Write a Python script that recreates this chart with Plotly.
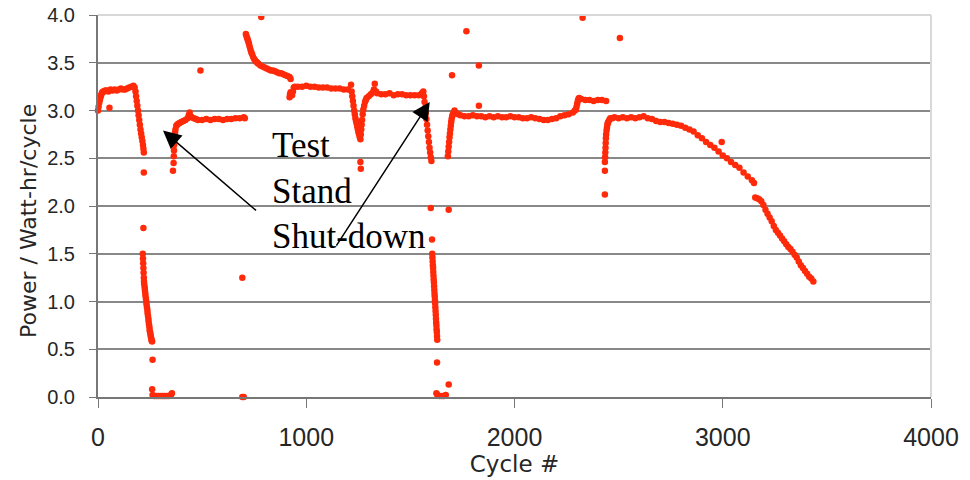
import plotly.graph_objects as go

# ---- data ----
seg_a_x = [0, 3, 6, 9, 12, 15, 18, 21, 25, 30, 35, 40, 50, 60, 70, 80, 90, 100, 110, 120, 130, 140, 150, 160, 170, 176,
           180, 183, 186, 189, 192, 195, 198, 201, 204, 207, 210, 213, 216, 218, 220]
seg_a_y = [3.00, 3.04, 3.08, 3.11, 3.14, 3.16, 3.18, 3.19, 3.20, 3.20, 3.21, 3.21, 3.20, 3.22, 3.21, 3.22, 3.21, 3.22, 3.23, 3.22, 3.22, 3.23, 3.24, 3.25, 3.26, 3.24,
           3.20, 3.15, 3.10, 3.05, 3.00, 2.95, 2.90, 2.85, 2.80, 2.76, 2.72, 2.68, 2.64, 2.60, 2.56]

drop1_x = [215, 216, 217, 218, 219, 220, 221, 222, 224, 225, 227, 228, 230, 232, 233, 235, 237, 238, 240, 242, 243, 245, 247,
           248, 250, 252, 253, 255, 257, 258, 260,
           262, 260, 262, 270, 280, 290, 300, 310, 320, 330, 340, 350, 355]
drop1_y = [1.50, 1.45, 1.40, 1.35, 1.30, 1.25, 1.21, 1.18, 1.15, 1.12, 1.09, 1.06, 1.03, 1.00, 0.97, 0.94, 0.91, 0.88, 0.85, 0.82, 0.79, 0.76, 0.73,
           0.70, 0.68, 0.66, 0.64, 0.62, 0.60, 0.59, 0.58,
           0.39, 0.08, 0.02, 0.01, 0.01, 0.01, 0.01, 0.01, 0.01, 0.01, 0.01, 0.02, 0.04]

seg_b_x = [363, 364, 365, 366, 367, 368, 370, 372, 376, 380, 385, 392, 400, 410, 420, 430, 436, 440, 445, 450, 460, 470, 480,
           500, 520, 540, 560, 580, 600, 620, 640, 660, 680, 700, 705]
seg_b_y = [2.45, 2.52, 2.58, 2.64, 2.69, 2.73, 2.77, 2.80, 2.84, 2.85, 2.86, 2.87, 2.88, 2.89, 2.90, 2.92, 2.95, 2.98, 2.94, 2.93, 2.92, 2.91, 2.90,
           2.90, 2.91, 2.90, 2.91, 2.91, 2.90, 2.91, 2.91, 2.92, 2.92, 2.93, 2.92]

seg_c_x = [710, 713, 716, 719, 722, 725, 728, 732, 736, 740, 745, 750, 755, 760, 765, 770, 780, 790, 800, 810, 820, 830, 840,
           850, 860, 870, 880, 890, 900, 910, 920, 925,
           920, 922, 925, 928, 932, 936, 940, 945, 960, 980, 1000, 1020, 1040, 1060, 1080, 1100, 1120, 1140, 1160, 1180, 1200, 1215,
           1218, 1221, 1224, 1227, 1230, 1233, 1236, 1239, 1242, 1245, 1248, 1251, 1254, 1257, 1260,
           1262, 1264, 1266, 1268, 1271, 1274, 1278, 1282, 1286, 1290, 1300, 1310, 1320, 1325, 1329, 1335,
           1340, 1360, 1380, 1400, 1420, 1440, 1460, 1480, 1500, 1520, 1540, 1555, 1562,
           1565, 1568, 1571, 1574, 1577, 1580, 1583, 1586, 1589, 1592, 1595, 1598, 1601]
seg_c_y = [3.80, 3.78, 3.76, 3.74, 3.72, 3.70, 3.67, 3.64, 3.61, 3.59, 3.56, 3.54, 3.52, 3.51, 3.50, 3.49, 3.47, 3.46, 3.45, 3.44, 3.43, 3.42, 3.42,
           3.41, 3.40, 3.39, 3.39, 3.38, 3.37, 3.36, 3.35, 3.33,
           3.14, 3.17, 3.19, 3.18, 3.16, 3.20, 3.24, 3.25, 3.25, 3.25, 3.26, 3.25, 3.25, 3.24, 3.24, 3.24, 3.23, 3.23, 3.23, 3.22, 3.22, 3.27,
           3.20, 3.15, 3.10, 3.05, 3.00, 2.96, 2.92, 2.89, 2.86, 2.83, 2.80, 2.77, 2.75, 2.72, 2.70,
           2.75, 2.80, 2.85, 2.90, 2.96, 3.01, 3.05, 3.09, 3.11, 3.13, 3.15, 3.17, 3.19, 3.22, 3.28, 3.20,
           3.18, 3.17, 3.17, 3.18, 3.16, 3.17, 3.17, 3.16, 3.16, 3.16, 3.16, 3.18, 3.20,
           3.15, 3.09, 3.03, 2.97, 2.91, 2.85, 2.79, 2.73, 2.67, 2.61, 2.56, 2.51, 2.47]

drop2_x = [1598, 1604, 1605, 1606, 1607, 1608, 1609, 1610, 1611, 1612, 1613, 1614, 1615, 1616, 1617, 1618, 1619, 1620, 1621, 1622,
           1623, 1624, 1625, 1626, 1627, 1628, 1629,
           1628, 1625, 1630, 1640, 1650, 1660, 1670, 1684]
drop2_y = [1.98, 1.65, 1.50, 1.46, 1.42, 1.38, 1.35, 1.31, 1.27, 1.23, 1.20, 1.16, 1.12, 1.08, 1.05, 1.01, 0.98, 0.94, 0.90, 0.86,
           0.82, 0.78, 0.75, 0.71, 0.68, 0.64, 0.60,
           0.36, 0.04, 0.02, 0.01, 0.01, 0.01, 0.02, 0.13]

seg_d_x = [1680, 1682, 1684, 1686, 1688, 1690, 1692, 1694, 1696, 1698, 1701, 1704, 1708, 1712, 1716, 1720, 1730,
           1740, 1760, 1780, 1800, 1820, 1840, 1860, 1880, 1900, 1920, 1940, 1960, 1980, 2000, 2020, 2040, 2060, 2080,
           2100, 2120, 2140, 2160, 2180, 2200, 2220, 2240, 2260, 2280, 2290, 2295, 2298, 2301, 2304, 2307, 2310, 2320, 2340, 2360,
           2380, 2400, 2420, 2440]
seg_d_y = [2.52, 2.57, 2.62, 2.67, 2.72, 2.76, 2.80, 2.84, 2.88, 2.91, 2.94, 2.96, 2.98, 3.00, 2.98, 2.97, 2.96,
           2.95, 2.94, 2.94, 2.95, 2.94, 2.94, 2.93, 2.94, 2.93, 2.94, 2.93, 2.93, 2.94, 2.93, 2.93, 2.92, 2.92, 2.93,
           2.92, 2.91, 2.90, 2.90, 2.91, 2.92, 2.94, 2.95, 2.96, 2.98, 3.00, 3.01, 3.04, 3.07, 3.10, 3.12, 3.13, 3.12, 3.11, 3.11,
           3.10, 3.11, 3.11, 3.10]

seg_e_x = [2434, 2434, 2435, 2436, 2437, 2438, 2439, 2440, 2442, 2444, 2446, 2448, 2450, 2455, 2460, 2470, 2480,
           2500, 2520, 2540, 2560, 2580, 2600, 2620, 2640, 2660, 2680, 2700, 2720, 2740, 2760, 2780, 2800,
           2820, 2840, 2860, 2880, 2900, 2920, 2940, 2960, 2980, 3000, 3020, 3040, 3060, 3080, 3100, 3120,
           3140, 3150,
           3156, 3165, 3175, 3185, 3195, 3205, 3215, 3225, 3235, 3245, 3255, 3265, 3275, 3285, 3295, 3305,
           3315, 3325, 3335, 3345, 3355, 3365, 3375, 3385, 3395, 3405, 3415, 3425, 3435]
seg_e_y = [2.37, 2.46, 2.51, 2.56, 2.61, 2.66, 2.71, 2.75, 2.79, 2.82, 2.85, 2.87, 2.88, 2.90, 2.92, 2.92, 2.93,
           2.92, 2.93, 2.92, 2.93, 2.92, 2.93, 2.94, 2.92, 2.91, 2.89, 2.88, 2.88, 2.87, 2.86, 2.85, 2.84,
           2.82, 2.80, 2.78, 2.74, 2.71, 2.67, 2.64, 2.61, 2.57, 2.53, 2.50, 2.46, 2.43, 2.40, 2.35, 2.31,
           2.27, 2.24,
           2.09, 2.08, 2.07, 2.05, 2.01, 1.96, 1.92, 1.88, 1.84, 1.79, 1.75, 1.72, 1.69, 1.66, 1.63, 1.60,
           1.57, 1.55, 1.52, 1.49, 1.46, 1.42, 1.38, 1.35, 1.32, 1.29, 1.26, 1.24, 1.21]

outlier_x = [55, 220, 218, 360, 492, 693, 693, 700, 784, 1260, 1262, 1684, 1700, 1769, 1829, 1829, 2327, 2434, 2506, 2995]
outlier_y = [3.03, 2.35, 1.77, 2.37, 3.42, 1.25, 0.00, 0.00, 3.98, 2.46, 2.39, 1.96, 3.37, 3.83, 3.47, 3.05, 3.97, 2.12, 3.76, 2.67]

x_ticks = [0, 1000, 2000, 3000, 4000]
y_ticks = [0.0, 0.5, 1.0, 1.5, 2.0, 2.5, 3.0, 3.5, 4.0]
y_tick_text = ["0.0", "0.5", "1.0", "1.5", "2.0", "2.5", "3.0", "3.5", "4.0"]

RED = "#ff2a0a"
TXT = "#262626"

fig = go.Figure()
segments = [(seg_a_x, seg_a_y), (drop1_x, drop1_y), (seg_b_x, seg_b_y), (seg_c_x, seg_c_y),
            (drop2_x, drop2_y), (seg_d_x, seg_d_y), (seg_e_x, seg_e_y), (outlier_x, outlier_y)]
for sx, sy in segments:
    fig.add_trace(go.Scatter(x=sx, y=sy, mode="markers",
                             marker=dict(color=RED, size=6.5, line=dict(width=0)),
                             cliponaxis=False, showlegend=False, hoverinfo="x+y"))

fig.update_layout(
    width=970, height=480,
    margin=dict(l=98, r=39, t=15, b=83, autoexpand=False),
    paper_bgcolor="white", plot_bgcolor="white",
    xaxis=dict(range=[0, 4000], tickvals=x_ticks, ticktext=[str(v) for v in x_ticks],
               automargin=False,
               showgrid=False, zeroline=False, showline=True, linecolor="#777777", linewidth=2,
               ticks="outside", ticklen=9, tickcolor="#777777", tickwidth=1,
               tickfont=dict(family="Liberation Sans, Arial, sans-serif", size=25, color=TXT),
               ticklabelstandoff=8,
               title=dict(text="Cycle #", font=dict(family="DejaVu Sans, sans-serif", size=23, color=TXT),
                          standoff=0)),
    yaxis=dict(range=[0, 4], tickvals=y_ticks, ticktext=y_tick_text,
               automargin=False,
               showgrid=True, gridcolor="#888888", gridwidth=2,
               zeroline=False, showline=True, linecolor="#777777", linewidth=2,
               ticks="outside", ticklen=7, tickcolor="#777777", tickwidth=1,
               tickfont=dict(family="Liberation Sans, Arial, sans-serif", size=20, color=TXT),
               ticklabelstandoff=10),
    shapes=[
        dict(type="line", xref="paper", yref="paper", x0=0, x1=1, y0=1, y1=1,
             line=dict(color="#d8d8d8", width=2)),
        dict(type="line", xref="paper", yref="paper", x0=1, x1=1, y0=0, y1=1,
             line=dict(color="#d8d8d8", width=2)),
    ],
    annotations=[
        dict(x=(29 - 98) / 833, y=1 - (221 - 15) / 382, xref="paper", yref="paper",
             xanchor="center", yanchor="middle",
             text="Power / Watt-hr/cycle", textangle=-90, showarrow=False,
             font=dict(family="DejaVu Sans, sans-serif", size=22, color=TXT)),
        dict(x=824, y=2.86, xref="x", yref="y", xanchor="left", yanchor="top",
             text="Test<br>Stand<br>Shut-down", showarrow=False, align="left",
             font=dict(family="Liberation Serif, Times New Roman, serif", size=35, color="black")),
        dict(x=312, y=2.79, ax=766, ay=1.94, xref="x", yref="y", axref="x", ayref="y",
             text="", showarrow=True, arrowhead=2, arrowsize=2.4, arrowwidth=1.5, arrowcolor="black"),
        dict(x=1593, y=3.09, ax=1140, ay=1.57, xref="x", yref="y", axref="x", ayref="y",
             text="", showarrow=True, arrowhead=2, arrowsize=2.4, arrowwidth=1.5, arrowcolor="black"),
    ],
)

fig.write_html("out.html")
